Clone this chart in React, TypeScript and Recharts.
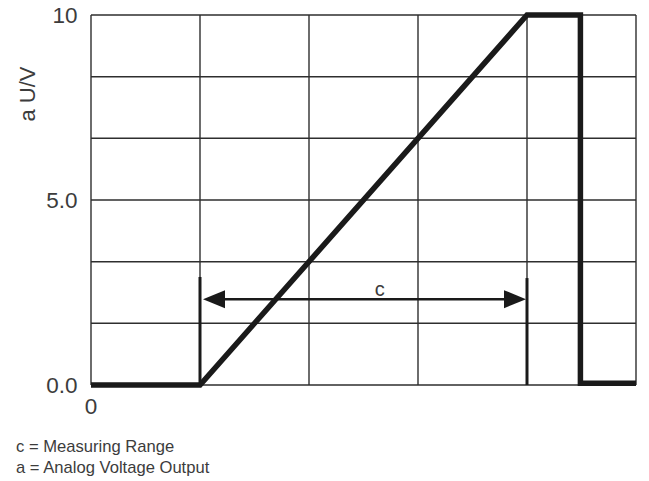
import {
  CartesianGrid,
  Line,
  LineChart,
  ReferenceDot,
  ReferenceLine,
  XAxis,
  YAxis,
} from "recharts";

// output curve (x in grid columns, y in volts)
const outputX = [0, 1, 4, 4.49, 4.49, 5];
const outputY = [0, 0, 10, 10, 0.05, 0.05];

const xTicks = [0];
const yTicks = [0, 5, 10];
const xGrid = [0, 1, 2, 3, 4, 5];
const yGrid = [0, 1.667, 3.333, 5, 6.667, 8.333, 10];

// measuring range "c"
const rangeX = [1, 4];
const rangeMarkerTop = [2.92, 2.89];
const arrowLevel = 2.32;
const rangeLabel = { x: 2.65, y: 2.6, text: "c" };

const legendLines = ["c = Measuring Range", "a = Analog Voltage Output"];

const chartData = outputX.map((x, i) => ({ x, y: outputY[i] }));

const INK = "#1a1a1a";
const TEXT = "#3c3c3c";
const FONT = "'Liberation Sans', Arial, sans-serif";

const Arrow = (props: any) => {
  const { x1, y1, x2 } = props;
  const l = x1 + 3;
  const r = x2 - 1;
  const head = 22;
  const half = 9;
  return (
    <g>
      <line x1={l + head - 2} y1={y1} x2={r - head + 2} y2={y1} stroke={INK} strokeWidth={2.5} />
      <polygon points={`${l},${y1} ${l + head},${y1 - half} ${l + head},${y1 + half}`} fill={INK} />
      <polygon points={`${r},${y1} ${r - head},${y1 - half} ${r - head},${y1 + half}`} fill={INK} />
    </g>
  );
};

const RangeText = (props: any) => (
  <text
    x={props.cx}
    y={props.cy}
    textAnchor="middle"
    dominantBaseline="central"
    fontSize={20}
    fill={TEXT}
    fontFamily={FONT}
  >
    {rangeLabel.text}
  </text>
);

const AxisTitle = () => (
  <text
    x={27}
    y={94}
    transform="rotate(-90 27 94)"
    textAnchor="middle"
    dominantBaseline="central"
    fontSize={22}
    fill={TEXT}
    fontFamily={FONT}
  >
    a U/V
  </text>
);

export default function App() {
  return (
    <div
      style={{
        position: "absolute",
        left: 0,
        top: 0,
        width: 649,
        height: 481,
        background: "#fff",
        fontFamily: FONT,
      }}
    >
      <LineChart
        width={649}
        height={481}
        data={chartData}
        margin={{ top: 15, right: 13, bottom: 66, left: 0 }}
      >
        <CartesianGrid
          horizontalValues={yGrid}
          verticalValues={xGrid}
          stroke="#2e2e2e"
          strokeWidth={1.4}
        />
        <XAxis
          dataKey="x"
          type="number"
          domain={[0, 5]}
          ticks={xTicks}
          height={30}
          axisLine={false}
          tickLine={false}
          tickSize={0}
          tickMargin={13}
          tick={{ fontSize: 22.5, fill: TEXT, fontFamily: FONT }}
        />
        <YAxis
          type="number"
          domain={[0, 10]}
          ticks={yTicks}
          width={91}
          axisLine={false}
          tickLine={false}
          tickSize={0}
          tickMargin={13.5}
          tickFormatter={(v: number) => (v === 10 ? "10" : v.toFixed(1))}
          tick={{ fontSize: 22.5, fill: TEXT, fontFamily: FONT }}
          label={{ content: <AxisTitle /> }}
        />
        {rangeX.map((x, i) => (
          <ReferenceLine
            key={`marker-${i}`}
            segment={[
              { x, y: 0 },
              { x, y: rangeMarkerTop[i] },
            ]}
            stroke={INK}
            strokeWidth={3}
          />
        ))}
        <ReferenceLine
          segment={[
            { x: rangeX[0], y: arrowLevel },
            { x: rangeX[1], y: arrowLevel },
          ]}
          shape={Arrow}
        />
        <ReferenceDot x={rangeLabel.x} y={rangeLabel.y} r={0} shape={RangeText} />
        <Line
          type="linear"
          dataKey="y"
          stroke={INK}
          strokeWidth={5.5}
          dot={false}
          activeDot={false}
          isAnimationActive={false}
        />
      </LineChart>
      {legendLines.map((t, i) => (
        <div
          key={t}
          style={{
            position: "absolute",
            left: 16,
            top: 437 + i * 21,
            fontSize: 16.6,
            lineHeight: "20px",
            color: TEXT,
            whiteSpace: "nowrap",
          }}
        >
          {t}
        </div>
      ))}
    </div>
  );
}
